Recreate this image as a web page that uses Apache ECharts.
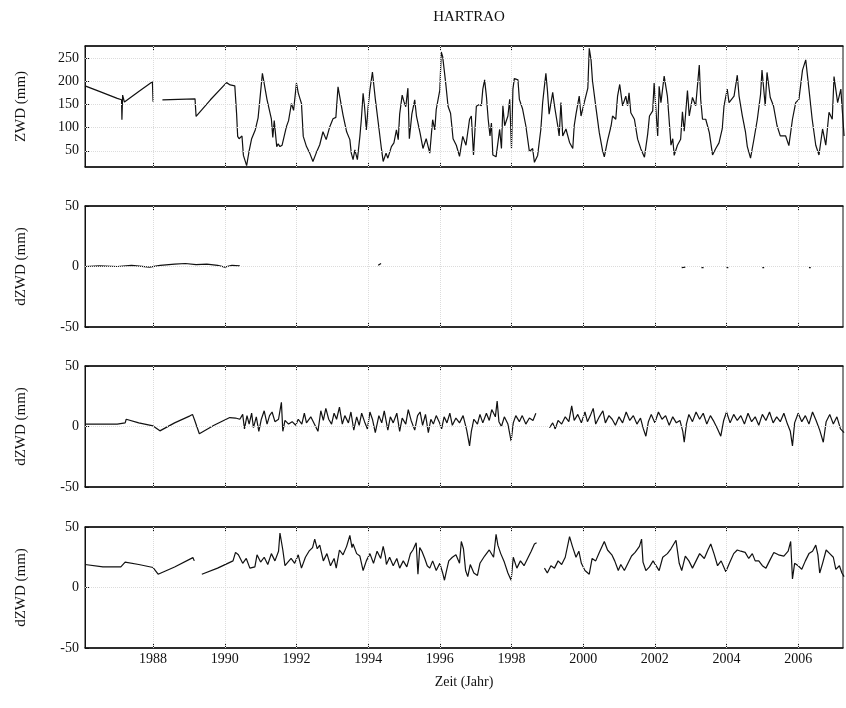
<!DOCTYPE html>
<html>
<head>
<meta charset="utf-8">
<script src="https://cdn.jsdelivr.net/npm/echarts@6/dist/echarts.min.js"></script>
<style>
  html, body { margin: 0; padding: 0; background: #fff; }
  #chart { width: 846px; height: 708px; }
</style>
</head>
<body>
<div id="chart"></div>
<script>
// tick labels
const yearTicks = [1988, 1990, 1992, 1994, 1996, 1998, 2000, 2002, 2004, 2006]
const zwdTicks = [50, 100, 150, 200, 250]
const dzTicks = [-50, 0, 50]

// ZWD (mm), [Jahr, Wert]
const zwd = [
  [1986.1,190],[1986.5,178],[1987.0,163],[1987.12,160],[1987.13,117],[1987.15,170],[1987.2,155],[1987.6,178],[1987.98,199],[1988.0,156],
  [1988.13,'-'],
  [1988.26,160],[1988.7,161],[1989.17,162],[1989.2,124],[1989.6,160],[1990.05,197],[1990.15,192],[1990.28,190],[1990.33,130],
  [1990.36,81],[1990.4,76],[1990.48,82],[1990.52,40],[1990.61,18],[1990.68,50],[1990.75,76],[1990.85,95],[1990.93,121],[1991.05,217],
  [1991.18,160],[1991.3,119],[1991.34,79],[1991.38,115],[1991.45,59],[1991.49,65],[1991.54,59],[1991.6,62],[1991.72,102],[1991.78,115],
  [1991.86,152],[1991.92,137],[1992.0,196],[1992.05,175],[1992.1,162],[1992.14,152],[1992.19,81],[1992.28,59],[1992.37,45],[1992.46,27],
  [1992.55,45],[1992.6,42],[1992.65,63],[1992.74,91],[1992.83,74],[1992.93,102],[1993.02,119],[1993.1,122],[1993.16,188],[1993.2,170],
  [1993.3,127],[1993.4,91],[1993.49,74],[1993.53,45],[1993.58,31],[1993.63,52],[1993.7,31],[1993.77,81],[1993.81,117],[1993.86,174],
  [1993.9,145],[1993.95,95],[1994.0,145],[1994.05,181],[1994.12,220],[1994.2,162],[1994.28,112],[1994.37,55],[1994.42,27],[1994.5,45],
  [1994.55,34],[1994.65,59],[1994.72,67],[1994.79,95],[1994.84,74],[1994.88,129],[1994.95,170],[1995.0,156],[1995.05,145],[1995.11,185],
  [1995.15,76],[1995.22,129],[1995.3,160],[1995.35,124],[1995.45,88],[1995.53,55],[1995.62,76],[1995.72,45],[1995.8,117],[1995.86,95],
  [1995.9,139],[1996.0,181],[1996.04,263],[1996.08,253],[1996.12,226],[1996.17,192],[1996.23,146],[1996.3,131],[1996.37,76],[1996.46,62],
  [1996.55,38],[1996.64,81],[1996.73,62],[1996.83,118],[1996.88,125],[1996.94,41],[1997.02,146],[1997.1,150],[1997.16,147],[1997.2,183],
  [1997.25,203],[1997.3,168],[1997.35,118],[1997.4,82],[1997.44,110],[1997.48,41],[1997.57,37],[1997.67,96],[1997.72,55],[1997.76,147],
  [1997.81,104],[1997.9,125],[1997.95,161],[1998.0,55],[1998.04,183],[1998.08,206],[1998.18,203],[1998.22,161],[1998.31,140],[1998.4,104],
  [1998.5,48],[1998.59,55],[1998.64,25],[1998.73,40],[1998.82,97],[1998.87,154],[1998.91,183],[1998.96,217],[1999.0,183],[1999.05,129],
  [1999.15,176],[1999.2,147],[1999.29,104],[1999.33,82],[1999.38,154],[1999.43,82],[1999.52,97],[1999.62,68],[1999.71,55],[1999.75,104],
  [1999.8,129],[1999.89,168],[1999.94,125],[2000.03,154],[2000.13,185],[2000.17,271],[2000.22,246],[2000.26,201],[2000.35,147],[2000.45,89],
  [2000.54,51],[2000.59,37],[2000.68,72],[2000.78,104],[2000.82,125],[2000.91,118],[2000.96,168],[2001.02,193],[2001.1,147],[2001.19,168],
  [2001.24,147],[2001.28,175],[2001.33,132],[2001.43,118],[2001.52,75],[2001.61,54],[2001.71,36],[2001.8,86],[2001.85,125],[2001.94,136],
  [2001.98,196],[2002.08,82],[2002.12,189],[2002.17,154],[2002.26,211],[2002.35,168],[2002.45,62],[2002.5,76],[2002.54,40],[2002.63,62],
  [2002.72,75],[2002.77,134],[2002.82,92],[2002.91,180],[2002.96,125],[2003.05,165],[2003.14,147],[2003.24,235],[2003.28,160],[2003.33,118],
  [2003.42,118],[2003.52,89],[2003.61,41],[2003.7,55],[2003.79,67],[2003.88,97],[2003.93,147],[2004.02,183],[2004.07,154],[2004.21,168],
  [2004.3,213],[2004.35,168],[2004.44,126],[2004.53,90],[2004.58,59],[2004.67,34],[2004.77,77],[2004.86,118],[2004.95,172],[2004.99,224],
  [2005.08,147],[2005.13,219],[2005.22,165],[2005.31,147],[2005.41,104],[2005.5,82],[2005.65,82],[2005.74,61],[2005.84,118],[2005.93,154],
  [2006.02,161],[2006.12,224],[2006.21,246],[2006.3,183],[2006.39,118],[2006.49,62],[2006.58,41],[2006.68,97],[2006.77,62],[2006.86,133],
  [2006.95,118],[2007.0,210],[2007.1,154],[2007.19,183],[2007.28,82]
]

// dZWD (mm), Panel 2
const dzwd1 = [
  [1986.1,0],[1986.5,0.5],[1987.0,0],[1987.4,1],[1987.9,-0.5],[1988.2,1],[1988.6,2],[1988.9,2.5],[1989.2,1.5],[1989.5,2],
  [1989.8,1],[1990.0,-0.5],[1990.2,1],[1990.42,0.5],
  [1992.0,'-'],
  [1994.28,1],[1994.36,2.5],
  [1998.0,'-'],
  [2002.75,-1],[2002.85,-0.5],[2003.0,'-'],[2003.3,-1],[2003.36,-1],[2003.6,'-'],
  [2004.0,-1],[2004.05,-1],[2004.5,'-'],[2005.0,-1],[2005.05,-1],[2005.5,'-'],[2006.3,-1],[2006.35,-1]
]

// dZWD (mm), Panel 3
const dzwd2 = [
  [1986.1,2],[1986.6,2],[1987.0,2],[1987.22,3],[1987.25,6],[1987.6,3],[1988.0,0.5],[1988.19,-3.6],[1988.6,3],[1989.03,8.8],
  [1989.1,10],[1989.15,6],[1989.29,-6],[1989.7,1],[1990.14,7.4],[1990.3,7],[1990.42,6],
  [1990.5,10],[1990.55,-2],[1990.62,9],[1990.68,2],[1990.75,11],[1990.8,-1],[1990.88,8],[1990.95,-4],[1991.02,6],[1991.1,13],
  [1991.18,2],[1991.25,9],[1991.32,12],[1991.4,4],[1991.5,6],[1991.58,20],[1991.62,-4],[1991.68,5],[1991.78,2],[1991.88,4],
  [1991.98,1],[1992.05,6],[1992.15,2],[1992.22,11],[1992.28,3],[1992.4,8],[1992.5,2],[1992.6,-4],[1992.68,13],[1992.75,5],
  [1992.82,15],[1992.9,6],[1992.98,2],[1993.05,11],[1993.12,6],[1993.2,16],[1993.28,2],[1993.35,9],[1993.45,3],[1993.52,12],
  [1993.6,-3],[1993.68,8],[1993.75,1],[1993.82,11],[1993.9,4],[1993.98,-2],[1994.05,12],[1994.12,6],[1994.2,-5],[1994.3,9],
  [1994.38,3],[1994.45,13],[1994.55,-3],[1994.62,8],[1994.7,3],[1994.8,11],[1994.88,-4],[1994.95,7],[1995.05,2],[1995.12,14],
  [1995.2,5],[1995.3,-3],[1995.38,9],[1995.45,12],[1995.52,1],[1995.6,10],[1995.68,-5],[1995.75,6],[1995.82,2],[1995.9,9],
  [1995.98,4],[1996.05,-2],[1996.12,8],[1996.2,3],[1996.28,11],[1996.35,1],[1996.45,7],[1996.55,3],[1996.65,9],[1996.75,-3],
  [1996.83,-16],[1996.88,-4],[1996.95,6],[1997.05,2],[1997.12,10],[1997.2,3],[1997.3,11],[1997.38,5],[1997.45,14],[1997.55,8],
  [1997.6,21],[1997.65,4],[1997.72,0],[1997.8,8],[1997.9,2],[1997.99,-12],[1998.05,3],[1998.12,9],[1998.22,4],[1998.3,9],
  [1998.4,2],[1998.5,7],[1998.6,5],[1998.68,11],
  [1998.9,'-'],
  [1999.06,-1],[1999.15,3],[1999.22,-2],[1999.3,5],[1999.4,2],[1999.5,8],[1999.6,4],[1999.68,17],[1999.75,5],[1999.85,10],
  [1999.95,3],[2000.05,12],[2000.12,4],[2000.2,9],[2000.28,15],[2000.35,2],[2000.45,8],[2000.55,13],[2000.62,3],[2000.72,9],
  [2000.81,6],[2000.9,1],[2001.0,8],[2001.1,3],[2001.2,12],[2001.3,5],[2001.4,9],[2001.5,2],[2001.6,7],[2001.68,-2],
  [2001.75,-8],[2001.82,4],[2001.9,10],[2002.0,3],[2002.1,12],[2002.2,6],[2002.3,9],[2002.4,1],[2002.5,8],[2002.6,3],
  [2002.7,5],[2002.78,-4],[2002.82,-13],[2002.88,2],[2002.95,10],[2003.05,4],[2003.15,12],[2003.25,6],[2003.35,11],[2003.45,2],
  [2003.55,9],[2003.65,4],[2003.75,-2],[2003.84,-8],[2003.92,5],[2004.0,12],[2004.1,3],[2004.2,10],[2004.3,5],[2004.4,9],
  [2004.5,2],[2004.6,11],[2004.7,4],[2004.8,8],[2004.9,1],[2005.0,10],[2005.1,5],[2005.2,12],[2005.3,3],[2005.4,8],
  [2005.5,4],[2005.6,11],[2005.7,2],[2005.78,-4],[2005.84,-16],[2005.9,3],[2006.0,11],[2006.1,4],[2006.2,9],[2006.3,2],
  [2006.4,12],[2006.5,5],[2006.6,-3],[2006.7,-13],[2006.78,4],[2006.88,10],[2006.98,2],[2007.08,8],[2007.18,-2],[2007.28,-5]
]

// dZWD (mm), Panel 4
const dzwd3 = [
  [1986.1,19],[1986.6,17],[1987.1,17],[1987.22,21],[1987.25,22],[1987.6,19],[1988.0,16.5],[1988.14,11],[1988.6,17],[1989.11,24.7],
  [1989.15,22],
  [1989.25,'-'],
  [1989.36,11],[1989.8,16],[1990.23,22],[1990.3,29],[1990.38,27],[1990.5,20],[1990.6,24],[1990.7,16],[1990.84,17],[1990.9,27],
  [1991.0,21],[1991.1,25],[1991.2,19],[1991.3,28],[1991.4,22],[1991.5,30],[1991.54,45],[1991.58,38],[1991.62,31],[1991.68,18],
  [1991.73,19],[1991.85,24],[1991.95,20],[1992.05,27],[1992.14,16],[1992.25,25],[1992.35,30],[1992.45,33],[1992.51,40],[1992.58,32],
  [1992.65,35],[1992.75,22],[1992.85,28],[1992.95,18],[1993.05,24],[1993.11,16],[1993.2,31],[1993.3,27],[1993.4,34],[1993.49,43],
  [1993.55,33],[1993.58,36],[1993.68,28],[1993.77,26],[1993.86,14],[1993.95,22],[1994.05,28],[1994.15,20],[1994.25,30],[1994.35,24],
  [1994.42,34],[1994.48,26],[1994.51,19],[1994.6,25],[1994.7,18],[1994.8,24],[1994.88,16],[1994.98,22],[1995.08,17],[1995.18,28],
  [1995.25,31],[1995.34,37],[1995.39,11],[1995.44,33],[1995.5,30],[1995.58,24],[1995.65,18],[1995.72,16],[1995.8,22],[1995.9,14],
  [1996.0,20],[1996.08,12],[1996.13,6],[1996.18,13],[1996.25,22],[1996.35,25],[1996.45,27],[1996.55,20],[1996.6,38],[1996.66,32],
  [1996.72,14],[1996.78,9],[1996.85,19],[1996.95,12],[1997.05,10],[1997.12,20],[1997.25,26],[1997.38,31],[1997.5,25],[1997.57,44],
  [1997.62,35],[1997.7,28],[1997.8,21],[1997.9,12],[1997.99,6],[1998.05,25],[1998.15,16],[1998.25,22],[1998.35,18],[1998.45,24],
  [1998.55,30],[1998.64,36],[1998.7,37],
  [1998.8,'-'],
  [1998.92,16],[1999.0,12],[1999.1,18],[1999.2,16],[1999.3,22],[1999.4,19],[1999.5,25],[1999.62,42],[1999.7,34],[1999.8,25],
  [1999.88,30],[1999.95,20],[2000.05,14],[2000.17,11],[2000.25,24],[2000.35,22],[2000.45,29],[2000.59,38],[2000.68,31],[2000.8,27],
  [2000.88,22],[2000.98,14],[2001.05,19],[2001.15,14],[2001.25,20],[2001.35,26],[2001.45,29],[2001.57,34],[2001.63,40],[2001.67,21],
  [2001.75,14],[2001.85,17],[2001.95,22],[2002.12,14],[2002.22,25],[2002.35,28],[2002.45,32],[2002.59,39],[2002.68,20],[2002.75,14],
  [2002.85,26],[2002.95,22],[2003.05,16],[2003.15,22],[2003.25,28],[2003.38,24],[2003.48,31],[2003.56,36],[2003.65,28],[2003.75,18],
  [2003.85,22],[2003.98,13],[2004.08,20],[2004.2,28],[2004.3,31],[2004.4,30],[2004.52,29],[2004.62,24],[2004.72,28],[2004.8,22],
  [2004.9,22],[2005.0,18],[2005.1,16],[2005.2,22],[2005.32,29],[2005.45,27],[2005.6,26],[2005.72,30],[2005.79,38],[2005.84,7],
  [2005.9,20],[2006.0,18],[2006.1,15],[2006.2,22],[2006.3,28],[2006.4,30],[2006.49,35],[2006.55,27],[2006.6,12],[2006.68,20],
  [2006.78,31],[2006.88,28],[2006.98,25],[2007.05,15],[2007.15,18],[2007.22,12],[2007.28,9]
]

const font = 'Liberation Serif'
const panels = [
  { data: zwd, top: 46, min: 15, max: 276, ticks: zwdTicks, name: 'ZWD (mm)' },
  { data: dzwd1, top: 206, min: -50, max: 50, ticks: dzTicks, name: 'dZWD (mm)' },
  { data: dzwd2, top: 366, min: -50, max: 50, ticks: dzTicks, name: 'dZWD (mm)' },
  { data: dzwd3, top: 527, min: -50, max: 50, ticks: dzTicks, name: 'dZWD (mm)' }
]

const grid = []
const xAxis = []
const yAxis = []
const series = []

panels.forEach((p, i) => {
  const last = i === panels.length - 1
  grid.push({ left: 85, right: 3, top: p.top, height: 121, show: true, borderColor: '#111', borderWidth: 1 })
  // unten
  xAxis.push({
    type: 'value', gridIndex: i, min: 1986.1, max: 2007.25,
    axisLine: { onZero: false, lineStyle: { color: '#111', width: 1.5 } },
    axisTick: { inside: true, length: 4, customValues: yearTicks, lineStyle: { color: '#111' } },
    axisLabel: {
      show: last, customValues: yearTicks, formatter: v => String(v),
      color: '#111', fontFamily: font, fontSize: 14, margin: 4
    },
    splitLine: { show: false },
    name: last ? 'Zeit (Jahr)' : '',
    nameLocation: 'middle', nameGap: 27,
    nameTextStyle: { color: '#111', fontFamily: font, fontSize: 14 }
  })
  // oben
  xAxis.push({
    type: 'value', gridIndex: i, position: 'top', min: 1986.1, max: 2007.25,
    axisLine: { onZero: false, lineStyle: { color: '#111', width: 1.5 } },
    axisTick: { inside: true, length: 4, customValues: yearTicks, lineStyle: { color: '#111' } },
    axisLabel: { show: false },
    splitLine: { show: false }
  })
  yAxis.push({
    type: 'value', gridIndex: i, min: p.min, max: p.max,
    axisLine: { show: true, onZero: false, lineStyle: { color: '#111' } },
    axisTick: { inside: true, length: 4, customValues: p.ticks, lineStyle: { color: '#111' } },
    axisLabel: { customValues: p.ticks, color: '#111', fontFamily: font, fontSize: 14, margin: 6 },
    splitLine: { show: false },
    name: p.name, nameLocation: 'middle', nameGap: 56, nameRotate: 90,
    nameTextStyle: { color: '#111', fontFamily: font, fontSize: 15 }
  })
  series.push({
    type: 'line', xAxisIndex: i * 2, yAxisIndex: i, data: p.data,
    showSymbol: false, connectNulls: false, animation: false,
    lineStyle: { color: '#111', width: 1.2 },
    markLine: {
      silent: true, symbol: 'none', label: { show: false },
      lineStyle: { color: '#dcdcdc', type: 'dotted', width: 1 },
      data: yearTicks.map(y => ({ xAxis: y })).concat(
        p.ticks.filter(t => t > p.min && t < p.max).map(t => ({ yAxis: t }))
      )
    }
  })
})

const myChart = echarts.init(document.getElementById('chart'))
myChart.setOption({
  animation: false,
  title: {
    text: 'HARTRAO', left: 464, top: 5, textAlign: 'center',
    textStyle: { color: '#111', fontFamily: font, fontSize: 15, fontWeight: 'normal' }
  },
  grid,
  xAxis,
  yAxis,
  series
})
</script>
</body>
</html>
